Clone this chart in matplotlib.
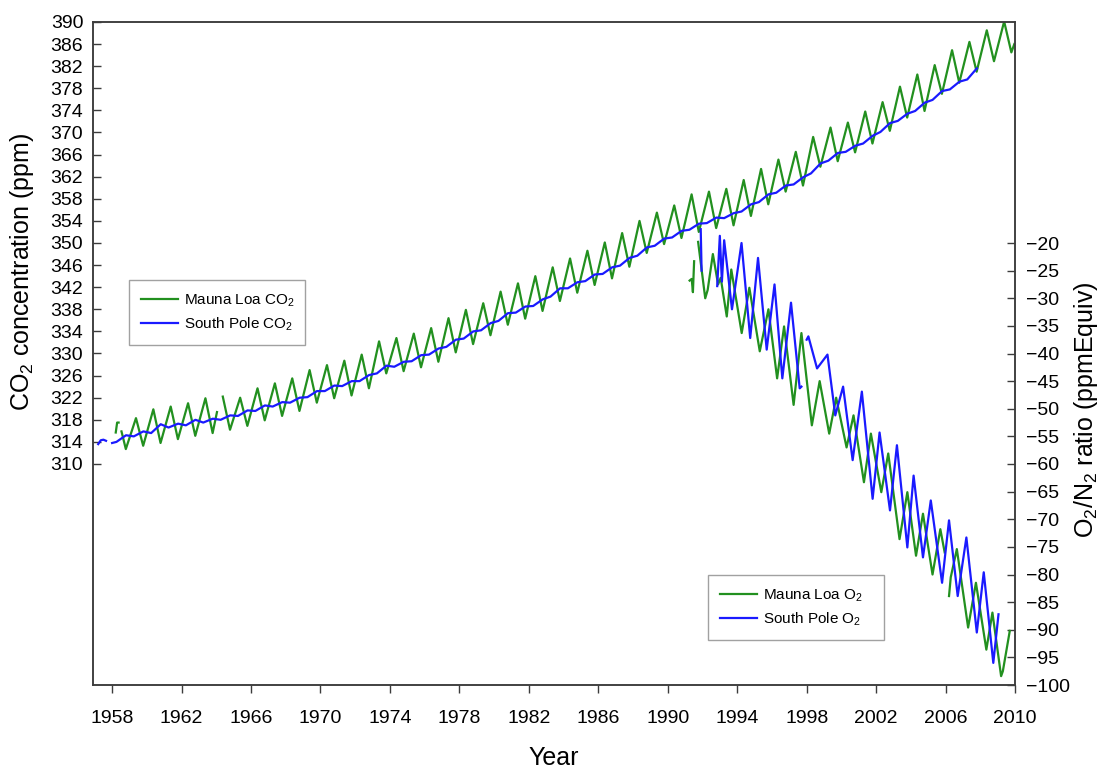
import numpy as np
import matplotlib
matplotlib.use('Agg')
import matplotlib.pyplot as plt

# Fonts and general look
plt.rcParams['font.family'] = ['Liberation Sans', 'DejaVu Sans']
plt.rcParams['mathtext.default'] = 'regular'
plt.rcParams['font.size'] = 14
plt.rcParams['axes.linewidth'] = 1.1
plt.rcParams['axes.edgecolor'] = '#3c3c3c'

nan = np.nan

# ---- Mauna Loa CO2 (ppm): yearly May maxima and autumn minima ----
ml_co2_years = list(range(1958, 2010))
ml_co2_max = [317.5, 318.3, 319.9, 320.4, 321.0, 321.9, 322.2, 322.0, 323.7, 324.6,
              325.5, 327.0, 327.9, 328.7, 329.8, 332.2, 332.8, 333.6, 334.6, 336.4,
              337.9, 339.1, 341.2, 342.7, 344.0, 345.6, 347.2, 348.6, 350.1, 351.8,
              354.0, 355.5, 356.8, 358.8, 359.3, 359.8, 361.4, 363.4, 365.1, 366.5,
              369.2, 370.9, 371.8, 373.8, 375.5, 378.3, 380.5, 382.2, 384.9, 386.4,
              388.5, 390.1]
ml_co2_min = [312.7, 313.3, 313.8, 314.5, 315.1, 315.6, 316.2, 316.9, 317.9, 318.7,
              319.6, 321.1, 321.9, 322.4, 323.7, 326.4, 326.8, 327.5, 328.5, 330.2,
              331.7, 333.3, 335.2, 336.3, 337.7, 339.5, 341.0, 342.4, 343.6, 345.7,
              348.2, 349.8, 350.9, 352.0, 352.7, 353.2, 354.9, 357.0, 359.3, 360.4,
              363.8, 364.8, 366.4, 368.0, 370.3, 372.7, 373.9, 377.0, 379.0, 381.0,
              382.9, 384.5]
# record start, missing months (nan) and last point
ml_co2_extra_t = [1958.21, 1958.29, 1958.45, 1958.54, 1958.62, 1964.04, 1964.2, 2009.96]
ml_co2_extra_v = [315.7, 317.5, nan, 315.9, 314.9, 319.4, nan, 386.0]

# ---- South Pole CO2 (ppm): yearly maxima (austral spring) and minima ----
sp_co2_years = list(range(1958, 2008))
sp_co2_max = [315.2, 315.9, 317.2, 317.3, 318.0, 318.2, 318.8, 319.7, 320.6, 321.2,
              322.0, 323.2, 324.2, 325.0, 326.1, 327.8, 328.5, 329.7, 330.9, 332.5,
              334.0, 335.5, 337.3, 338.5, 339.8, 341.8, 342.9, 344.3, 345.6, 347.3,
              349.2, 350.8, 352.2, 353.5, 354.6, 355.4, 357.0, 358.8, 360.4, 361.9,
              364.4, 366.3, 367.6, 369.4, 371.7, 373.4, 375.4, 377.5, 379.2, 381.6]
sp_co2_min = [314.0, 315.0, 315.6, 316.6, 317.0, 317.5, 318.0, 318.7, 319.6, 320.4,
              321.1, 322.1, 323.2, 324.1, 325.0, 326.4, 327.6, 328.6, 329.8, 331.2,
              332.7, 334.2, 335.9, 337.4, 338.6, 340.3, 341.8, 343.1, 344.4, 345.9,
              347.7, 349.5, 351.0, 352.4, 353.6, 354.5, 355.7, 357.4, 359.1, 360.6,
              362.6, 364.9, 366.5, 368.0, 370.1, 372.1, 373.9, 375.9, 377.8, 379.6]
sp_co2_extra_t = [1957.2, 1957.35, 1957.5, 1957.65, 1957.8, 1958.0]
sp_co2_extra_v = [313.6, 314.3, 314.4, 314.2, nan, 313.8]

# ---- O2/N2 ratio (ppmEquiv) ----
ml_o2_t = [1991.26, 1991.38, 1991.45, 1991.52, 1991.62,
           1991.75, 1992.16, 1992.3, 1992.6, 1992.9, 1993.05, 1993.4, 1993.66,
           1994.26, 1994.7, 1995.3, 1995.8, 1996.3, 1996.7, 1997.25, 1997.7,
           1998.3, 1998.75, 1999.3, 1999.7, 2000.3, 2000.7, 2001.3, 2001.7,
           2002.3, 2002.7, 2003.35, 2003.8, 2004.3, 2004.7, 2005.25, 2005.7,
           2005.95, 2006.08,
           2006.2, 2006.3, 2006.65, 2007.3, 2007.75, 2008.35, 2008.7, 2009.2,
           2009.3, 2009.7]
ml_o2_v = [-26.8, -26.5, -28.9, -23.3, nan,
           -19.8, -30.0, -28.5, -22.0, -27.5, -26.3, -33.3, -24.8,
           -36.3, -28.1, -39.6, -32.0, -44.5, -35.1, -49.3, -36.3,
           -53.0, -45.0, -54.5, -48.0, -57.0, -51.2, -63.3, -54.5,
           -65.1, -58.1, -73.6, -65.1, -76.6, -69.0, -80.0, -71.8,
           -76.0, nan,
           -83.9, -80.5, -75.4, -89.6, -81.5, -93.6, -86.9, -98.4,
           -97.5, -90.2]

sp_o2_t = [1991.9, 1991.95, 1992.4,
           1992.85, 1993.0, 1993.12, 1993.25, 1993.7, 1994.25, 1994.75, 1995.2,
           1995.7, 1996.15, 1996.6, 1997.1, 1997.6, 1997.7, 1997.85,
           1998.0, 1998.1, 1998.6, 1999.2, 1999.65, 2000.1, 2000.65, 2001.18,
           2001.8, 2002.2, 2002.8, 2003.2, 2003.8, 2004.16, 2004.7, 2005.15,
           2005.8, 2006.2, 2006.7, 2007.2, 2007.8, 2008.2, 2008.75, 2009.05]
sp_o2_v = [-17.5, -25.0, nan,
           -27.8, -18.7, -27.0, -19.5, -32.0, -20.0, -37.2, -22.7,
           -39.3, -27.5, -44.5, -30.8, -46.3, -46.0, nan,
           -37.5, -36.9, -42.7, -40.2, -51.2, -46.0, -59.3, -46.9,
           -66.3, -54.3, -68.4, -56.6, -75.1, -62.1, -76.9, -66.6,
           -81.5, -70.2, -83.9, -73.3, -90.5, -79.6, -96.0, -87.2]

# month offsets (fraction of a year) where the seasonal extremes sit
ML_PEAK, ML_TROUGH = 0.375, 0.79
SP_PEAK, SP_TROUGH = 0.8, 0.25


def seasonal_series(years, hi, lo, t_hi, t_lo, extra_t, extra_v):
    yrs = np.array(years, dtype=float)
    t = np.concatenate([yrs + t_hi, yrs + t_lo, extra_t])
    v = np.concatenate([hi, lo, extra_v])
    order = np.argsort(t)
    return t[order], v[order]


ml_t, ml_v = seasonal_series(ml_co2_years, ml_co2_max, ml_co2_min, ML_PEAK, ML_TROUGH,
                             ml_co2_extra_t, ml_co2_extra_v)
sp_t, sp_v = seasonal_series(sp_co2_years, sp_co2_max, sp_co2_min, SP_PEAK, SP_TROUGH,
                             sp_co2_extra_t, sp_co2_extra_v)

green = '#22901f'
blue = '#1a1aff'
line_style = {'linewidth': 1.6, 'solid_joinstyle': 'round'}

fig = plt.figure(figsize=(11.06, 7.69), dpi=100)
ax = fig.add_axes([93 / 1106, 1 - 685 / 769, 922 / 1106, 663 / 769])
ax2 = ax.twinx()

l1, = ax.plot(ml_t, ml_v, color=green, label='Mauna Loa CO$_2$', **line_style)
l2, = ax.plot(sp_t, sp_v, color=blue, label='South Pole CO$_2$', **line_style)
l3, = ax2.plot(ml_o2_t, ml_o2_v, color=green, label='Mauna Loa O$_2$', **line_style)
l4, = ax2.plot(sp_o2_t, sp_o2_v, color=blue, label='South Pole O$_2$', **line_style)

ax.set_xlim(1956.9, 2010)
ax.set_ylim(270, 390)
ax2.set_ylim(-100, 20)

ax.set_xticks(np.arange(1958, 2011, 4))
ax.set_yticks(np.arange(310, 391, 4))
ax2.set_yticks(np.arange(-100, -19, 5))

ax.tick_params(axis='x', direction='out', length=6, width=1, pad=12, labelsize=14,
               color='#3c3c3c')
ax.tick_params(axis='y', direction='in', length=6, width=1, pad=7, labelsize=14,
               color='#3c3c3c')
ax2.tick_params(axis='y', direction='in', length=6, width=1, pad=8, labelsize=14,
                color='#3c3c3c')

ax.set_xlabel('Year', fontsize=18, labelpad=14)
fig.text(22 / 1106, 1 - 272 / 769, 'CO$_2$ concentration (ppm)', rotation=90,
         ha='center', va='center', fontsize=18)
fig.text(1086 / 1106, 1 - 410 / 769, 'O$_2$/N$_2$ ratio (ppmEquiv)', rotation=90,
         ha='center', va='center', fontsize=18)

# fixed-width legend boxes (x0, y0, width, height in axes fraction)
legend_style = {
    'loc': 'upper left',
    'mode': 'expand',
    'fontsize': 11,
    'frameon': True,
    'fancybox': False,
    'edgecolor': '#8a8a8a',
    'borderpad': 0.8,
    'labelspacing': 0.45,
    'handlelength': 2.4,
    'handletextpad': 0.4,
    'borderaxespad': 0,
}
leg1 = ax.legend(handles=[l1, l2], bbox_to_anchor=(0.039, 0.511, 0.191, 0.1),
                 **legend_style)
leg2 = ax2.legend(handles=[l3, l4], bbox_to_anchor=(0.667, 0.066, 0.191, 0.1),
                  **legend_style)
for leg in (leg1, leg2):
    leg.get_frame().set_linewidth(1.0)

fig.savefig('out.png', dpi=100, facecolor='white')
